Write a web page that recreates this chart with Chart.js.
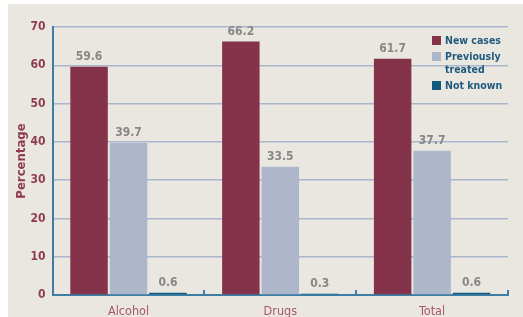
<!DOCTYPE html>
<html>
<head>
<meta charset="utf-8">
<script src="https://cdn.jsdelivr.net/npm/chart.js@4"></script>
<style>
  html, body { margin:0; padding:0; background:#fff; }
  #wrap { position:absolute; left:8px; top:4px; width:515px; height:313px; background:#EAE7E0; overflow:hidden; }
  #legend { position:absolute; left:424px; top:30px; font-family:"DejaVu Sans Condensed","DejaVu Sans",sans-serif; font-weight:bold; font-size:10.5px; color:#1F5A7E; line-height:13px; }
  #legend .row { display:flex; align-items:flex-start; margin-bottom:3px; }
  #legend .box { width:9px; height:9px; margin-right:4px; margin-top:2px; flex:none; }
</style>
</head>
<body>
<div id="wrap">
  <canvas id="chart" width="515" height="324"></canvas>
  <div id="legend"></div>
</div>
<script>
const categories = ['Alcohol', 'Drugs', 'Total'];
const seriesNames = [['New cases'], ['Previously', 'treated'], ['Not known']];
const newCases = [59.6, 66.2, 61.7];
const previouslyTreated = [39.7, 33.5, 37.7];
const notKnown = [0.6, 0.3, 0.6];
const yTicks = [0, 10, 20, 30, 40, 50, 60, 70];

const colors = ['#85334A', '#ADB6CA', '#0D5A7E'];
const axisBlue = '#3F7EA4';
const font = '"DejaVu Sans Condensed","DejaVu Sans",sans-serif';

// value labels above each bar
const valueLabels = {
  id: 'valueLabels',
  afterDatasetsDraw(chart){
    const ctx = chart.ctx;
    ctx.save();
    ctx.font = 'bold 12px ' + font;
    ctx.fillStyle = '#878787';
    ctx.textAlign = 'center';
    ctx.textBaseline = 'bottom';
    chart.data.datasets.forEach((ds, i)=>{
      chart.getDatasetMeta(i).data.forEach((bar, j)=>{
        ctx.fillText(ds.data[j].toFixed(1), bar.x, bar.y - 4);
      });
    });
    ctx.restore();
  }
};

// small upward tick marks at category boundaries on the x axis
const xTicks = {
  id: 'xTicks',
  afterDraw(chart){
    const x = chart.scales.x, ctx = chart.ctx;
    const step = (x.right - x.left) / categories.length;
    ctx.save();
    ctx.strokeStyle = axisBlue;
    ctx.lineWidth = 2;
    for(let i=1; i<=categories.length; i++){
      const px = Math.round(x.left + step*i);
      ctx.beginPath();
      ctx.moveTo(px, x.top + 1);
      ctx.lineTo(px, x.top - 5);
      ctx.stroke();
    }
    ctx.restore();
  }
};

const chart = new Chart(document.getElementById('chart'), {
  type: 'bar',
  data: {
    labels: categories,
    datasets: [
      { label: seriesNames[0].join(' '), data: newCases, backgroundColor: colors[0] },
      { label: seriesNames[1].join(' '), data: previouslyTreated, backgroundColor: colors[1] },
      { label: seriesNames[2].join(' '), data: notKnown, backgroundColor: colors[2] }
    ]
  },
  options: {
    responsive: false,
    animation: false,
    datasets: { bar: { categoryPercentage: 0.78, barPercentage: 0.95 } },
    layout: { padding: { top: 23, right: 15, left: 6, bottom: 0 } },
    plugins: { legend: { display: false }, tooltip: { enabled: false } },
    scales: {
      x: {
        grid: { display: false, drawTicks: false },
        border: { color: axisBlue, width: 2 },
        ticks: { color: '#A6576D', font: { family: font, size: 12.5 }, padding: 9 }
      },
      y: {
        min: 0, max: 70,
        afterBuildTicks: (s)=>{ s.ticks = yTicks.map(v=>({value:v})); },
        grid: { color: '#A9B6CB', lineWidth: 1.5, drawTicks: false },
        border: { color: axisBlue, width: 2 },
        ticks: { color: '#8E3B52', font: { family: font, size: 12, weight: 'bold' }, padding: 7 },
        title: { display: true, text: 'Percentage', color: '#8E3B52', font: { family: font, size: 13, weight: 'bold' }, padding: { top: 0, bottom: -6 } }
      }
    }
  },
  plugins: [valueLabels, xTicks]
});

// html legend (two-line entry for "Previously treated")
const legend = document.getElementById('legend');
seriesNames.forEach((lines, i)=>{
  const row = document.createElement('div');
  row.className = 'row';
  row.innerHTML = `<div class="box" style="background:${colors[i]}"></div><div>${lines.join('<br>')}</div>`;
  legend.appendChild(row);
});
</script>
</body>
</html>
